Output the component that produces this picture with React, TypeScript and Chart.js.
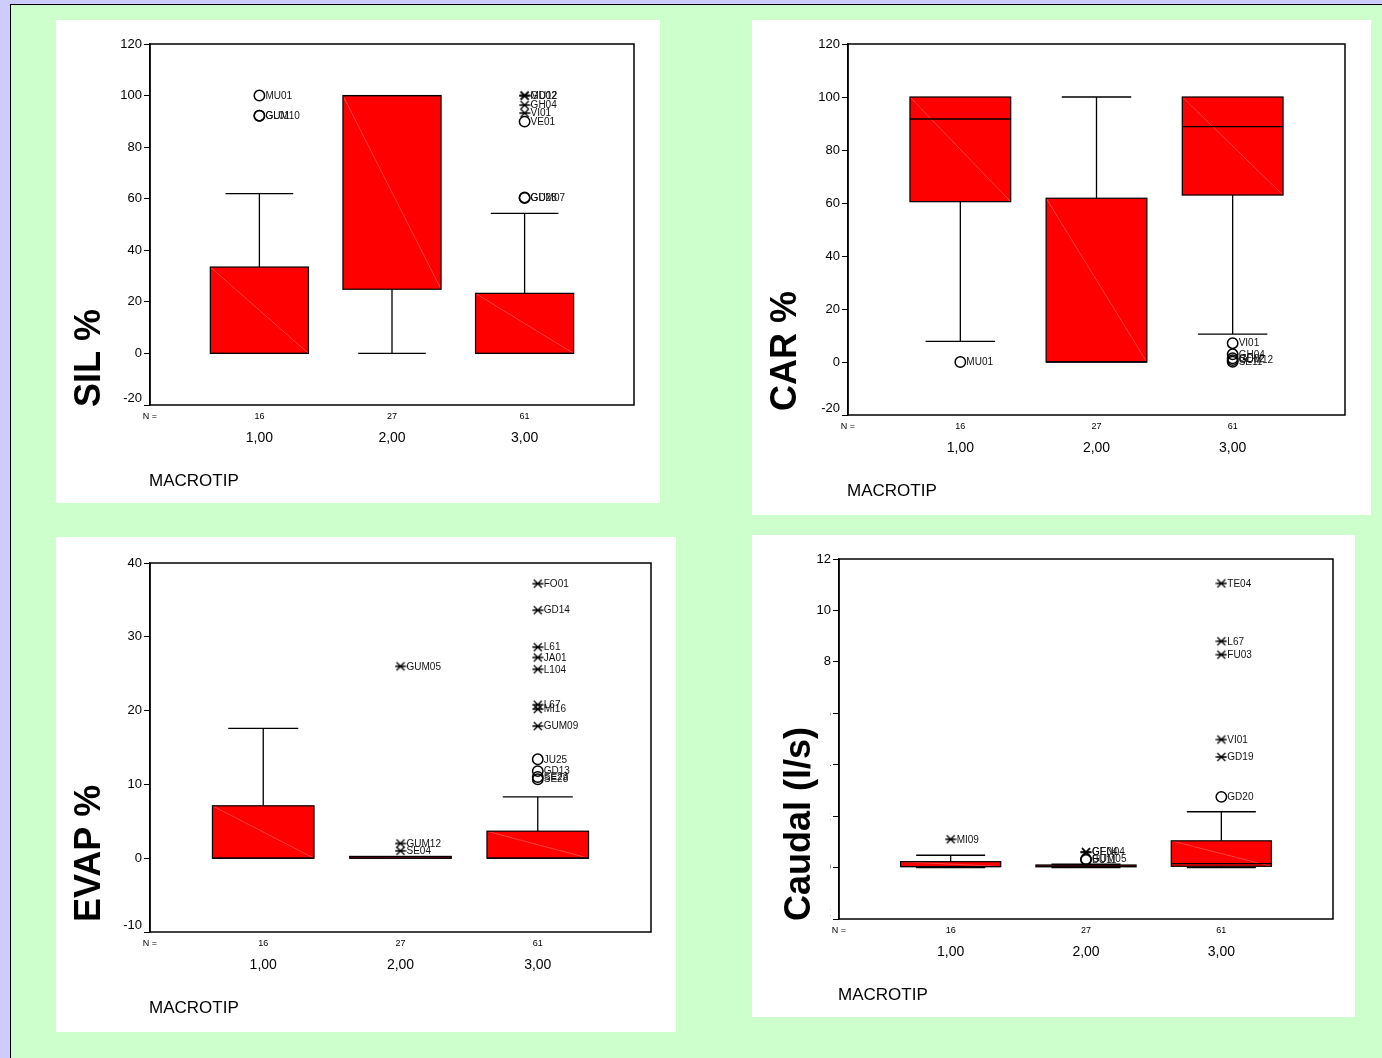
import React, { useEffect, useRef } from "react";
import { Chart, registerables } from "chart.js";

Chart.register(...registerables);

const FONT = "Arial, 'Liberation Sans', Helvetica, sans-serif";

// Grouping variable (MACROTIP): codes, printed labels and group sizes
const groupAxisName = "MACROTIP";
const groupValues = [1, 2, 3];
const groupLabels = ["1,00", "2,00", "3,00"];
const groupCounts = ["16", "27", "61"];

// Box summaries per group: [lower whisker, Q1, median, Q3, upper whisker]
// Outliers: [group, value, case label, kind] where "o" = outlier, "*" = extreme
// Y range: [min, max, step]

const silBoxes = [
  [0, 0, 0, 33.5, 62],
  [0, 24.9, 100, 100, 100],
  [0, 0, 0, 23.3, 54.3],
];
const silOutliers = [
  [1, 100, "MU01", "o"],
  [1, 92.2, "GUM10", "o"],
  [1, 92.2, "GL01", "o"],
  [3, 100, "GD02", "*"],
  [3, 100, "MU12", "*"],
  [3, 96.3, "GH04", "*"],
  [3, 93.2, "VI01", "*"],
  [3, 89.9, "VE01", "o"],
  [3, 60.5, "GD28", "o"],
  [3, 60.3, "GUM07", "o"],
];
const silRange = [-20, 120, 20];

const carBoxes = [
  [7.8, 60.5, 91.7, 100, 100],
  [0, 0, 0, 61.8, 100],
  [10.5, 63, 88.8, 100, 100],
];
const carOutliers = [
  [1, 0, "MU01", "o"],
  [3, 7.1, "VI01", "o"],
  [3, 2.9, "GH04", "o"],
  [3, 1.4, "GD02", "o"],
  [3, 0.7, "GUM12", "o"],
  [3, 0.1, "SE11", "o"],
];
const carRange = [-20, 120, 20];

const evapBoxes = [
  [0, 0, 0, 7.1, 17.6],
  [0, 0, 0, 0, 0],
  [0, 0, 0, 3.66, 8.3],
];
const evapOutliers = [
  [2, 26.0, "GUM05", "*"],
  [2, 2.0, "GUM12", "*"],
  [2, 1.0, "SE04", "*"],
  [3, 37.2, "FO01", "*"],
  [3, 33.6, "GD14", "*"],
  [3, 28.6, "L61", "*"],
  [3, 27.2, "JA01", "*"],
  [3, 25.6, "L104", "*"],
  [3, 20.8, "L67", "*"],
  [3, 20.2, "MI16", "*"],
  [3, 17.9, "GUM09", "*"],
  [3, 13.4, "JU25", "o"],
  [3, 11.8, "GD13", "o"],
  [3, 11.0, "SE23", "o"],
  [3, 10.7, "SE28", "o"],
];
const evapRange = [-10, 40, 10];

const caudalBoxes = [
  [0, 0.04, 0.04, 0.23, 0.48],
  [0, 0.03, 0.06, 0.1, 0.13],
  [0, 0.05, 0.15, 1.04, 2.17],
];
const caudalOutliers = [
  [1, 1.1, "MI09", "*"],
  [2, 0.6, "GEN04", "*"],
  [2, 0.6, "GE04", "*"],
  [2, 0.33, "GUM05", "o"],
  [2, 0.3, "BU11", "o"],
  [3, 11.05, "TE04", "*"],
  [3, 8.8, "L67", "*"],
  [3, 8.28, "FU03", "*"],
  [3, 4.98, "VI01", "*"],
  [3, 4.3, "GD19", "*"],
  [3, 2.75, "GD20", "o"],
];
const caudalRange = [-2, 12, 2];

// Page-level placement of each panel: white card, plot frame and y title
const silLayout = { panel: [56, 20, 660, 503], plot: [150, 44, 634, 405], titleX: 90, titleBottom: 407 };
const carLayout = { panel: [752, 20, 1371, 515], plot: [848, 44, 1345, 415], titleX: 786, titleBottom: 411 };
const evapLayout = { panel: [56, 537, 676, 1032], plot: [150, 563, 651, 932], titleX: 90, titleBottom: 922 };
const caudalLayout = {
  panel: [752, 535, 1355, 1017],
  plot: [839, 559, 1333, 919],
  titleX: 800,
  titleBottom: 921,
  cover: [768, 690, 830, 926],
};

const X_MIN = 0.175;
const X_MAX = 3.825;
const BOX_HALF = 0.37;
const CAP_HALF = 0.255;

type Spec = {
  title: string;
  boxes: number[][];
  outliers: any[][];
  range: number[];
  layout: any;
};

const panels: Spec[] = [
  { title: "SIL %", boxes: silBoxes, outliers: silOutliers, range: silRange, layout: silLayout },
  { title: "CAR %", boxes: carBoxes, outliers: carOutliers, range: carRange, layout: carLayout },
  { title: "EVAP %", boxes: evapBoxes, outliers: evapOutliers, range: evapRange, layout: evapLayout },
  { title: "Caudal (l/s)", boxes: caudalBoxes, outliers: caudalOutliers, range: caudalRange, layout: caudalLayout },
];

// Six-ray asterisk used for extreme values
function makeAsterisk(): HTMLCanvasElement {
  const c = document.createElement("canvas");
  c.width = 12;
  c.height = 12;
  const g = c.getContext("2d")!;
  g.strokeStyle = "#000";
  g.lineWidth = 1.3;
  g.beginPath();
  g.moveTo(0.5, 6);
  g.lineTo(11.5, 6);
  g.moveTo(2, 2);
  g.lineTo(10, 10);
  g.moveTo(10, 2);
  g.lineTo(2, 10);
  g.stroke();
  return c;
}

function makeBoxPlugin(spec: Spec) {
  const [pl, pt] = spec.layout.panel;
  return {
    id: "spssBoxes",
    beforeDatasetsDraw(chart: any) {
      const { ctx } = chart;
      const xs = chart.scales.x;
      const ys = chart.scales.y;
      ctx.save();
      spec.boxes.forEach((b, i) => {
        const g = groupValues[i];
        const [lo, q1, med, q3, hi] = b;
        const xc = xs.getPixelForValue(g);
        const xl = xs.getPixelForValue(g - BOX_HALF);
        const xr = xs.getPixelForValue(g + BOX_HALF);
        const cl = xs.getPixelForValue(g - CAP_HALF);
        const cr = xs.getPixelForValue(g + CAP_HALF);
        const yLo = ys.getPixelForValue(lo);
        const yQ1 = ys.getPixelForValue(q1);
        const yMed = ys.getPixelForValue(med);
        const yQ3 = ys.getPixelForValue(q3);
        const yHi = ys.getPixelForValue(hi);

        // whiskers and caps
        ctx.strokeStyle = "#000";
        ctx.lineWidth = 1.3;
        ctx.beginPath();
        if (hi > q3) {
          ctx.moveTo(xc, yQ3);
          ctx.lineTo(xc, yHi);
          ctx.moveTo(cl, yHi);
          ctx.lineTo(cr, yHi);
        }
        if (lo < q1) {
          ctx.moveTo(xc, yQ1);
          ctx.lineTo(xc, yLo);
          ctx.moveTo(cl, yLo);
          ctx.lineTo(cr, yLo);
        }
        ctx.stroke();

        // box body
        const h = Math.max(yQ1 - yQ3, 1.8);
        const top = yQ1 - h;
        ctx.fillStyle = "#ff0000";
        ctx.fillRect(xl, top, xr - xl, h);
        ctx.strokeStyle = "#ff8282";
        ctx.lineWidth = 0.5;
        ctx.beginPath();
        ctx.moveTo(xl, top);
        ctx.lineTo(xr, yQ1);
        ctx.stroke();
        ctx.strokeStyle = "#000";
        ctx.lineWidth = 1.2;
        ctx.strokeRect(xl, top, xr - xl, h);

        // median
        ctx.lineWidth = 1.3;
        ctx.beginPath();
        ctx.moveTo(xl, yMed);
        ctx.lineTo(xr, yMed);
        ctx.stroke();
      });
      ctx.restore();
    },
    afterDraw(chart: any) {
      const { ctx, chartArea: a } = chart;
      const xs = chart.scales.x;
      const ys = chart.scales.y;
      ctx.save();

      // case labels next to outliers
      ctx.fillStyle = "#111";
      ctx.font = `10px ${FONT}`;
      ctx.textBaseline = "middle";
      ctx.textAlign = "left";
      spec.outliers.forEach((o) => {
        const px = xs.getPixelForValue(o[0]);
        const py = ys.getPixelForValue(o[1]);
        ctx.fillText(o[2], px + 6, py + 0.5);
      });

      // plot frame
      ctx.strokeStyle = "#000";
      ctx.lineWidth = 1.5;
      ctx.strokeRect(a.left, a.top, a.right - a.left, a.bottom - a.top);

      // group axis: sizes, category labels, variable name
      ctx.fillStyle = "#000";
      ctx.textAlign = "center";
      ctx.font = `9px ${FONT}`;
      ctx.fillText("N =", a.left, a.bottom + 12);
      groupValues.forEach((g, i) => {
        const px = xs.getPixelForValue(g);
        ctx.font = `9px ${FONT}`;
        ctx.fillText(groupCounts[i], px, a.bottom + 12);
        ctx.font = `14px ${FONT}`;
        ctx.fillText(groupLabels[i], px, a.bottom + 33.5);
      });
      ctx.textAlign = "left";
      ctx.font = `17px ${FONT}`;
      ctx.fillText(groupAxisName, a.left - 1, a.bottom + 76);

      // value axis title (its backdrop may hide tick labels)
      const cover = spec.layout.cover;
      if (cover) {
        ctx.fillStyle = "#fff";
        ctx.fillRect(cover[0] - pl, cover[1] - pt, cover[2] - cover[0], cover[3] - cover[1]);
      }
      ctx.fillStyle = "#000";
      ctx.translate(spec.layout.titleX - pl, spec.layout.titleBottom - pt);
      ctx.rotate(-Math.PI / 2);
      ctx.font = `bold 36px ${FONT}`;
      ctx.textAlign = "left";
      ctx.textBaseline = "middle";
      ctx.fillText(spec.title, 0, 0);
      ctx.restore();
    },
  };
}

function BoxPanel({ spec }: { spec: Spec }) {
  const ref = useRef<HTMLCanvasElement>(null);
  const [pl, pt, pr, pb] = spec.layout.panel;
  const [al, at, ar, ab] = spec.layout.plot;
  const width = pr - pl;
  const height = pb - pt;

  useEffect(() => {
    if (!ref.current) return;
    const [yMin, yMax, yStep] = spec.range;
    const asterisk = makeAsterisk();
    const toPoint = (o: any[]) => ({ x: o[0], y: o[1] });
    const chart = new Chart(ref.current, {
      type: "scatter",
      data: {
        datasets: [
          {
            label: "outliers",
            data: spec.outliers.filter((o) => o[3] === "o").map(toPoint),
            pointStyle: "circle",
            pointRadius: 5.2,
            borderWidth: 1.5,
            borderColor: "#000",
            backgroundColor: "rgba(255,255,255,0)",
          },
          {
            label: "extremes",
            data: spec.outliers.filter((o) => o[3] === "*").map(toPoint),
            pointStyle: asterisk as any,
            pointRadius: 5,
          },
        ],
      },
      options: {
        animation: false,
        responsive: false,
        events: [],
        layout: { padding: { left: 0, top: at - pt, right: pr - ar, bottom: pb - ab } },
        plugins: { legend: { display: false }, tooltip: { enabled: false } },
        scales: {
          x: { type: "linear", display: false, min: X_MIN, max: X_MAX },
          y: {
            type: "linear",
            min: yMin,
            max: yMax,
            afterFit: (s: any) => {
              s.width = al - pl;
            },
            ticks: {
              stepSize: yStep,
              autoSkip: false,
              color: "#000",
              padding: 2,
              font: { family: FONT, size: 13, lineHeight: 1 },
              callback: (v: any) => (v === yMin ? [String(v), ""] : String(v)),
            },
            grid: { drawOnChartArea: false, drawTicks: true, tickLength: 6, color: "#000", lineWidth: 1 },
            border: { display: true, color: "#000", width: 1.5 },
          },
        },
      } as any,
      plugins: [makeBoxPlugin(spec)],
    });
    return () => chart.destroy();
  }, [spec]);

  return (
    <div style={{ position: "absolute", left: pl, top: pt, width, height, background: "#ffffff" }}>
      <canvas ref={ref} width={width} height={height} style={{ display: "block", width, height }} />
    </div>
  );
}

export default function App() {
  return (
    <div
      style={{
        position: "absolute",
        left: 0,
        top: 0,
        width: 1382,
        height: 1058,
        background: "#ccccff",
        overflow: "hidden",
      }}
    >
      <div
        style={{
          position: "absolute",
          left: 10,
          top: 4,
          right: 0,
          bottom: 0,
          background: "#ccffcc",
          borderLeft: "1px solid #000",
          borderTop: "1px solid #000",
        }}
      />
      {panels.map((p) => (
        <BoxPanel key={p.title} spec={p} />
      ))}
    </div>
  );
}
